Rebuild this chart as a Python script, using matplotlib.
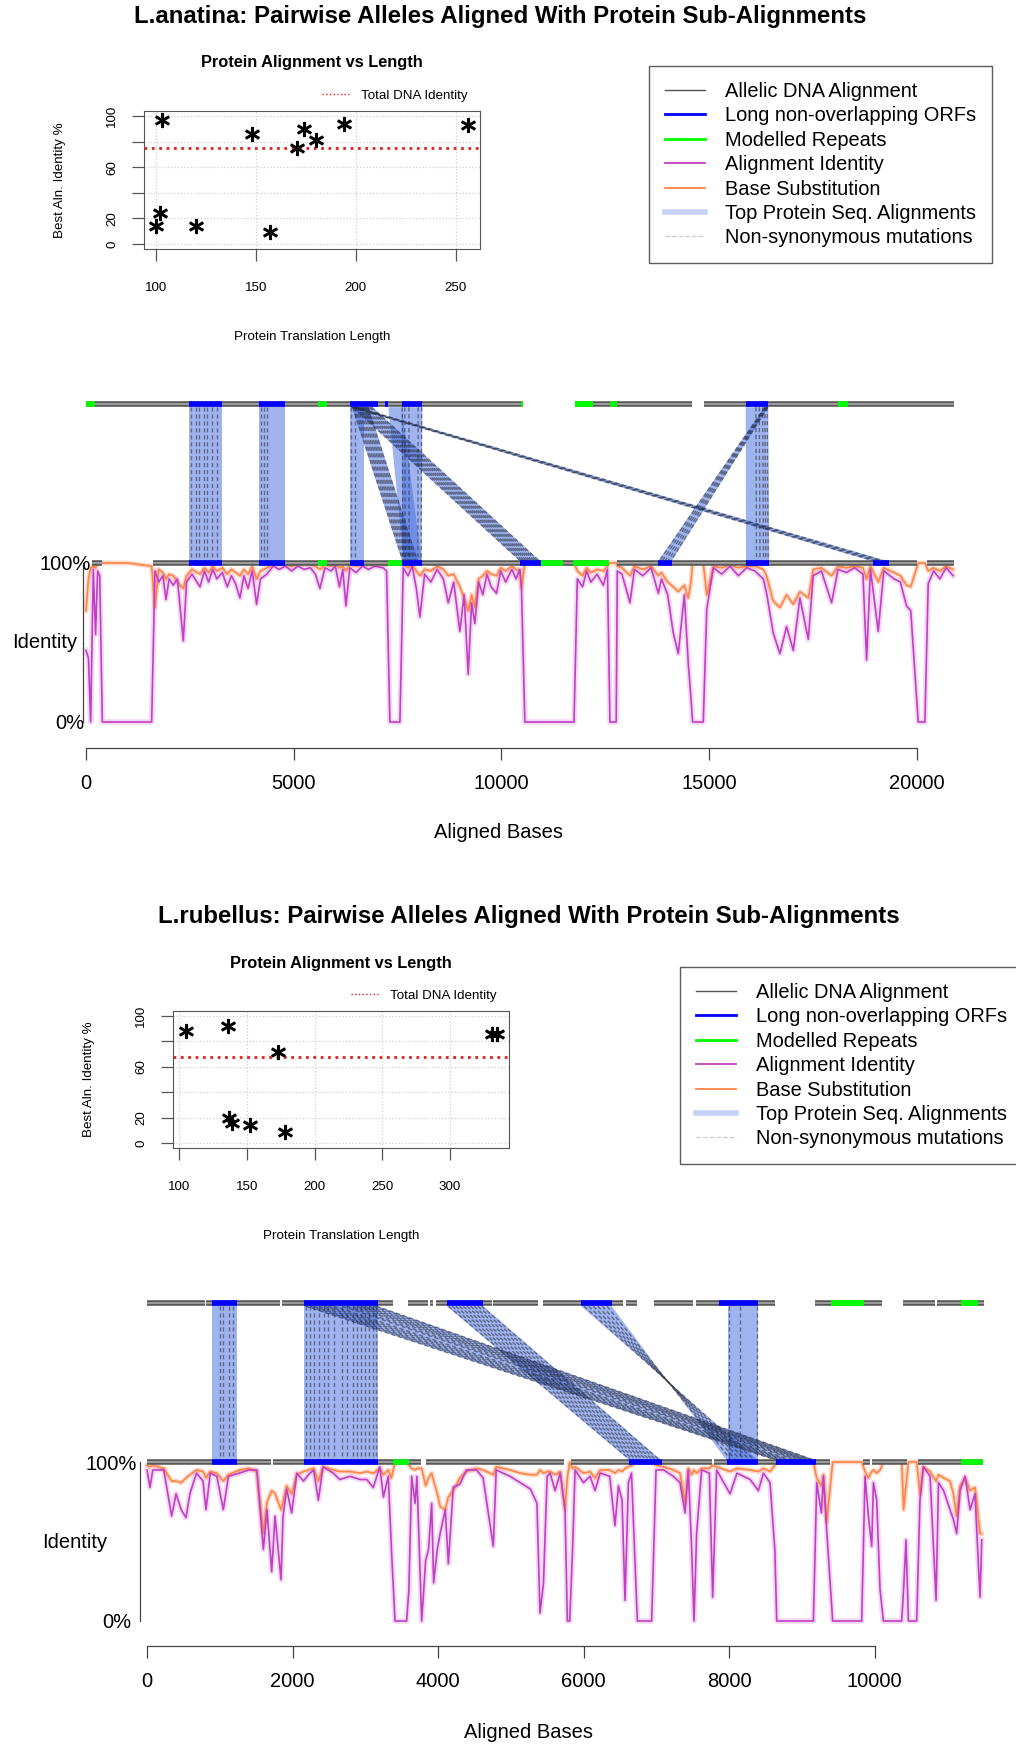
import matplotlib
matplotlib.use("Agg")
import matplotlib.pyplot as plt
from matplotlib.lines import Line2D
from matplotlib.patches import Polygon

plt.rcParams["font.family"] = ["Liberation Sans", "DejaVu Sans"]

W, H = 1016, 1747

# ---------------- L.anatina ----------------
ANA_PROT_LEN = [103, 148, 170.5, 174, 180, 194, 256, 102, 100, 120, 157]
ANA_PROT_IDENT = [97, 86, 75, 90, 81, 94, 93, 24, 14, 14, 9]
ANA_DNA_IDENT = 75

ANA_TOP_ALN = [(0, 10517), (11769, 14578), (14874, 20891)]
ANA_TOP_ORF = [(2486, 3280), (4171, 4789), (6354, 6691), (6691, 7035),
               (7196, 7276), (7598, 8094), (15877, 16421)]
ANA_TOP_REP = [(0, 217), (5577, 5793), (10469, 10517), (11769, 12195),
               (12611, 12780), (18099, 18346)]
ANA_BOT_ALN = [(137, 377), (1605, 12587), (12772, 20007), (20233, 20891)]
ANA_BOT_ORF = [(2486, 3280), (4171, 4789), (6354, 6691), (7613, 8079),
               (10445, 10943), (13759, 14096), (15884, 16446), (18934, 19326)]
ANA_BOT_REP = [(5577, 5793), (7261, 7613), (10943, 11488), (11729, 12587)]

# protein sub-alignments: top start, top end, bottom start, bottom end
ANA_BANDS = [(2486, 3280, 2486, 3280), (4171, 4789, 4171, 4789),
             (6354, 6691, 6354, 6691), (7598, 8094, 7613, 8079),
             (7276, 7598, 7650, 8079), (6400, 6800, 7613, 8000),
             (6400, 6900, 10445, 10943), (6354, 6520, 18934, 19326),
             (15877, 16421, 15884, 16446), (16330, 16421, 13759, 14096)]
ANA_MUTS = [[0.05, 0.2, 0.3, 0.45, 0.55, 0.7, 0.85],
            [0.08, 0.18, 0.3],
            [0.1, 0.35],
            [0.03, 0.15, 0.35, 0.8, 0.97],
            [],
            [0.05, 0.15, 0.25, 0.35, 0.45, 0.55, 0.65, 0.75, 0.85, 0.95],
            [0.05, 0.15, 0.25, 0.35, 0.45, 0.55, 0.65, 0.75, 0.85, 0.95],
            [0.2, 0.4, 0.6, 0.8],
            [0.45, 0.6, 0.75, 0.85, 0.95],
            [0.1, 0.3, 0.5, 0.7, 0.9]]

ANA_POS = [0, 60, 112, 176, 230, 280, 330, 393, 1000, 1580,
           1660, 1750, 1850, 1925, 2000, 2100, 2200, 2342, 2420, 2550,
           2743, 2850, 2950, 3050, 3150, 3280, 3400, 3500, 3600, 3705,
           3800, 3900, 4000, 4106, 4200, 4350, 4507, 4650, 4800, 4950,
           5100, 5250, 5400, 5520, 5630, 5750, 5900, 6000, 6100, 6180,
           6256, 6350, 6500, 6650, 6800, 6950, 7150, 7234, 7314, 7555,
           7635, 7750, 7850, 7950, 8036, 8150, 8300, 8450, 8600, 8718,
           8850, 8998, 9100, 9199, 9280, 9359, 9450, 9550, 9650, 9750,
           9880, 9980, 10100, 10250, 10350, 10442, 10480, 10562, 11745, 11825,
           11950, 12050, 12150, 12300, 12450, 12550, 12610, 12760, 12787, 12900,
           13092, 13200, 13400, 13600, 13774, 13850, 14000, 14134, 14255, 14400,
           14495, 14560, 14600, 14856, 14940, 15100, 15300, 15500, 15700, 15900,
           16100, 16300, 16380, 16540, 16701, 16861, 17022, 17182, 17383, 17503,
           17700, 17944, 18100, 18300, 18500, 18700, 18786, 18880, 19067, 19200,
           19450, 19600, 19748, 19850, 20029, 20190, 20270, 20400, 20550, 20700,
           20871]
ANA_IDENT = [45, 40, 0, 96, 55, 95, 92, 0, 0, 0,
             95, 88, 92, 77, 90, 86, 90, 51, 88, 93,
             85, 95, 88, 96, 90, 94, 85, 92, 87, 78,
             92, 84, 95, 74, 90, 93, 98, 96, 98, 95,
             98, 96, 97, 93, 84, 97, 95, 98, 85, 96,
             73, 97, 94, 98, 96, 98, 97, 95, 0, 0,
             97, 92, 98, 84, 66, 93, 88, 96, 90, 75,
             88, 57, 80, 30, 75, 62, 88, 80, 93, 85,
             81, 95, 88, 96, 90, 96, 85, 0, 0, 90,
             85, 95, 88, 93, 86, 96, 0, 0, 95, 93,
             75, 96, 92, 97, 81, 90, 80, 56, 43, 80,
             37, 15, 0, 0, 71, 97, 93, 98, 92, 97,
             95, 90, 81, 56, 43, 60, 45, 78, 52, 92,
             95, 75, 96, 94, 97, 93, 39, 96, 57, 95,
             90, 88, 73, 70, 0, 0, 87, 95, 90, 97,
             92]
ANA_SUBST = [70, 90, 97, 98, 97, 100, 100, 100, 100, 98,
             72, 96, 94, 90, 93, 92, 88, 84, 92, 96,
             93, 97, 94, 98, 95, 97, 93, 96, 94, 92,
             96, 93, 98, 90, 95, 97, 99, 99, 99, 98,
             99, 99, 99, 98, 96, 99, 98, 99, 97, 98,
             95, 99, 98, 99, 99, 99, 99, 99, 100, 100,
             99, 97, 99, 95, 92, 96, 95, 98, 96, 92,
             93, 85, 78, 70, 80, 72, 90, 92, 95, 93,
             92, 97, 95, 98, 96, 95, 84, 100, 100, 95,
             92, 97, 94, 96, 95, 98, 100, 100, 98, 97,
             92, 98, 96, 98, 92, 94, 88, 85, 82, 86,
             78, 88, 100, 100, 80, 98, 97, 99, 97, 98,
             98, 96, 92, 76, 72, 80, 74, 82, 78, 96,
             97, 92, 98, 97, 98, 97, 90, 98, 88, 97,
             94, 92, 86, 85, 100, 100, 95, 97, 95, 98,
             96]

# ---------------- L.rubellus ----------------
RUB_PROT_LEN = [105, 136, 173, 331, 335, 137, 139, 152, 178]
RUB_PROT_IDENT = [88, 92, 72, 86, 86, 20, 16, 14, 9]
RUB_DNA_IDENT = 68

RUB_TOP_ALN = [(0, 797), (817, 1828), (1860, 3386), (3592, 3867), (3890, 3936),
               (3973, 4738), (4761, 5380), (5449, 6548), (6580, 6731),
               (6974, 7510), (7547, 8632), (9182, 10099), (10396, 10832),
               (10855, 11505)]
RUB_TOP_ORF = [(900, 1234), (2160, 3172), (4119, 4623), (5966, 6387), (7867, 8403)]
RUB_TOP_REP = [(9398, 9856), (11189, 11418)]
RUB_BOT_ALN = [(0, 1700), (1728, 3762), (3835, 5732), (5824, 7762), (7794, 9389),
               (9847, 9939), (9962, 10442), (10603, 11496)]
RUB_BOT_ORF = [(900, 1234), (2160, 3172), (6630, 7074), (7968, 8403), (8646, 9196)]
RUB_BOT_REP = [(3377, 3606), (11189, 11496)]

RUB_BANDS = [(900, 1234, 900, 1234), (2160, 3172, 2160, 3172),
             (2160, 3172, 8646, 9196), (4119, 4623, 6630, 7074),
             (5966, 6387, 8403, 7968), (7990, 8403, 7990, 8403)]
RUB_MUTS = [[0.3, 0.45, 0.7, 0.85],
            [0.02, 0.08, 0.13, 0.2, 0.27, 0.33, 0.4, 0.52, 0.58, 0.66,
             0.72, 0.77, 0.82, 0.88, 0.94, 0.98],
            [0.02, 0.08, 0.13, 0.2, 0.27, 0.33, 0.4, 0.52, 0.58, 0.66,
             0.72, 0.77, 0.82, 0.88, 0.94, 0.98],
            [0.05, 0.15, 0.25, 0.35, 0.45, 0.55, 0.65, 0.75, 0.85, 0.95],
            [0.1, 0.25, 0.4, 0.55, 0.7, 0.85],
            [0.03, 0.4, 0.97]]

RUB_POS = [0, 41, 80, 230, 339, 400, 470, 536, 590, 680,
           770, 811, 870, 960, 1049, 1120, 1270, 1400, 1510, 1599,
           1650, 1714, 1760, 1842, 1870, 1920, 1989, 2060, 2150, 2220,
           2290, 2355, 2420, 2560, 2650, 2790, 2930, 3020, 3111, 3200,
           3250, 3317, 3360, 3409, 3569, 3600, 3638, 3685, 3710, 3776,
           3830, 3870, 3913, 3940, 3990, 4030, 4100, 4142, 4210, 4300,
           4390, 4530, 4620, 4760, 4800, 4990, 5130, 5270, 5360, 5402,
           5450, 5500, 5540, 5610, 5680, 5746, 5778, 5810, 5850, 5884,
           6000, 6090, 6159, 6230, 6360, 6433, 6480, 6530, 6571, 6617,
           6660, 6740, 6937, 6997, 7100, 7235, 7327, 7396, 7441, 7487,
           7519, 7555, 7624, 7730, 7776, 7830, 8014, 8110, 8290, 8404,
           8473, 8564, 8630, 8656, 9160, 9206, 9270, 9298, 9343, 9425,
           9824, 9870, 9916, 9962, 9985, 10030, 10076, 10122, 10374, 10400,
           10433, 10466, 10580, 10625, 10672, 10764, 10846, 10880, 10950, 11038,
           11084, 11130, 11176, 11245, 11314, 11382, 11405, 11451, 11474]
RUB_IDENT = [95, 84, 95, 95, 66, 80, 70, 65, 80, 93,
             88, 70, 93, 91, 70, 91, 93, 95, 95, 45,
             70, 31, 66, 26, 66, 83, 68, 93, 88, 92,
             95, 76, 97, 93, 89, 91, 89, 89, 84, 97,
             78, 91, 45, 0, 0, 20, 91, 74, 91, 0,
             38, 45, 74, 24, 45, 55, 70, 36, 84, 86,
             95, 95, 90, 47, 95, 91, 87, 83, 74, 5,
             24, 91, 93, 82, 93, 70, 0, 0, 45, 95,
             87, 91, 82, 93, 91, 60, 85, 76, 13, 87,
             93, 0, 0, 95, 95, 91, 87, 68, 95, 45,
             0, 55, 95, 93, 15, 95, 80, 93, 89, 82,
             93, 87, 45, 0, 0, 87, 68, 91, 57, 0,
             0, 91, 66, 47, 87, 76, 20, 0, 0, 20,
             51, 0, 0, 76, 97, 91, 13, 87, 82, 70,
             64, 55, 82, 91, 70, 80, 57, 15, 51]
RUB_SUBST = [98, 97, 98, 96, 88, 88, 87, 90, 92, 95,
             94, 90, 94, 93, 88, 92, 95, 96, 94, 55,
             75, 82, 80, 70, 75, 85, 80, 92, 94, 95,
             96, 88, 97, 95, 94, 94, 93, 94, 93, 96,
             92, 95, 90, 100, 100, 98, 96, 95, 96, 96,
             85, 90, 93, 88, 80, 72, 70, 78, 82, 90,
             94, 96, 95, 92, 97, 95, 93, 92, 92, 95,
             93, 94, 94, 92, 94, 70, 90, 100, 96, 97,
             93, 94, 90, 95, 95, 93, 95, 94, 96, 97,
             98, 100, 100, 98, 97, 95, 93, 74, 96, 92,
             95, 93, 96, 96, 98, 97, 94, 96, 95, 94,
             96, 94, 98, 100, 100, 90, 85, 92, 62, 100,
             100, 94, 90, 94, 95, 93, 95, 100, 100, 70,
             85, 100, 100, 80, 97, 94, 88, 92, 90, 88,
             80, 66, 85, 90, 82, 84, 75, 55, 55]

LEGEND_LABELS = ["Allelic DNA Alignment", "Long non-overlapping ORFs",
                 "Modelled Repeats", "Alignment Identity", "Base Substitution",
                 "Top Protein Seq. Alignments", "Non-synonymous mutations"]

PURPLE = "#c13fc4"
ORANGE = "#ff8247"
BAND = "#4169e1"
TOP_Y, BOT_Y = 200, 100


def px_rect(l, t, r, b):
    return [l / W, 1 - b / H, (r - l) / W, (b - t) / H]


def fig_text(fig, x, y, s, **kw):
    fig.text(x / W, 1 - y / H, s, ha="center", va="center", **kw)


def draw_inset(fig, box, lens, idents, dna, xlim, xticks):
    ax = fig.add_axes(px_rect(*box))
    ax.set_xlim(*xlim)
    ax.set_ylim(-4, 104)
    ax.set_xticks(xticks)
    ax.set_yticks([0, 20, 40, 60, 80, 100], ["0", "20", "", "60", "", "100"],
                  rotation=90, va="center")
    ax.grid(True, color="#d0d0d0", ls=":", lw=0.9)
    ax.set_axisbelow(True)
    for sp in ax.spines.values():
        sp.set_color("#555555")
    ax.tick_params(length=8.6, width=0.9, color="#555555", labelsize=9.6)
    ax.tick_params(axis="x", pad=15)
    ax.tick_params(axis="y", pad=10)
    ax.axhline(dna, color="#dd2222", ls=":", lw=2.0)
    ax.plot(lens, idents, ls="none", marker="$*$", ms=10, color="black", mew=1.0)
    ax.text(0.5, 1.35, "Protein Alignment vs Length", transform=ax.transAxes,
            ha="center", va="center", fontsize=11.8, fontweight="bold")
    ax.text(0.5, -0.64, "Protein Translation Length", transform=ax.transAxes,
            ha="center", va="center", fontsize=9.6)
    ax.text(-0.25, 0.5, "Best Aln. Identity %", transform=ax.transAxes,
            ha="center", va="center", rotation=90, fontsize=9.6)
    h = Line2D([], [], color="#dd2222", ls=":", lw=1.0)
    ax.legend([h], ["Total DNA Identity"], loc="center left",
              bbox_to_anchor=(0.53, 1.11), frameon=False, fontsize=9.6,
              handlelength=2.0, handletextpad=0.9, borderpad=0, borderaxespad=0)
    return ax


def draw_segments(ax, segs, y, color, lw, z):
    for a, b in segs:
        ax.plot([a, b], [y, y], color=color, lw=lw, solid_capstyle="butt", zorder=z)


def draw_main(fig, box, x0, ppb, y0, ppp, xmax, xstep, left_px,
              pos, ident, subst, top_aln, top_orf, top_rep,
              bot_aln, bot_orf, bot_rep, bands, muts):
    l, t, r, b = box
    ax = fig.add_axes(px_rect(l, t, r, b))
    ax.set_xlim((l - x0) / ppb, (r - x0) / ppb)
    ax.set_ylim((y0 - b) / ppp, (y0 - t) / ppp)
    ax.patch.set_alpha(0)

    # identity curves (faint wide copies underneath)
    ax.plot(pos, subst, color=ORANGE, lw=3.5, alpha=0.3, zorder=2)
    ax.plot(pos, ident, color=PURPLE, lw=4, alpha=0.2, zorder=2)
    ax.plot(pos, subst, color=ORANGE, lw=1.2, zorder=2.5)
    ax.plot(pos, ident, color=PURPLE, lw=1.2, zorder=2.6)

    # protein sub-alignment bands + non-synonymous mutations
    yt, yb = TOP_Y - 2, BOT_Y + 1
    for (t0, t1, b0, b1), fr in zip(bands, muts):
        ax.add_patch(Polygon([(t0, yt), (t1, yt), (b1, yb), (b0, yb)], closed=True,
                             fc=BAND, ec="none", alpha=0.5, zorder=3))
        for f in fr:
            ax.plot([t0 + f * (t1 - t0), b0 + f * (b1 - b0)], [yt, yb],
                    color="#262b36", lw=1.0, ls=(0, (3, 2)), alpha=0.55, zorder=3.2)

    # allele tracks
    for segs, y in ((top_aln, TOP_Y), (bot_aln, BOT_Y)):
        draw_segments(ax, segs, y, "#585858", 4, 4)
        draw_segments(ax, segs, y, "#a8a8a8", 1.2, 4.1)
    draw_segments(ax, top_orf, TOP_Y, "#0000ff", 4, 5)
    draw_segments(ax, bot_orf, BOT_Y, "#0000ff", 4, 5)
    draw_segments(ax, top_rep, TOP_Y, "#00ff00", 4, 5)
    draw_segments(ax, bot_rep, BOT_Y, "#00ff00", 4, 5)

    ax.spines[["top", "right"]].set_visible(False)
    ax.spines["bottom"].set_bounds(0, xmax)
    ax.spines["left"].set_position(("data", (left_px - x0) / ppb))
    ax.spines["left"].set_bounds(0, 100)
    for sp in ("bottom", "left"):
        ax.spines[sp].set_color("#444444")
        ax.spines[sp].set_linewidth(0.9)
    ax.set_xticks(range(0, xmax + 1, xstep))
    ax.set_yticks([])
    ax.tick_params(axis="x", length=8.6, width=0.9, color="#444444",
                   labelsize=14.5, pad=10)
    return ax


fig = plt.figure(figsize=(W / 100, H / 100), dpi=100)

# ---- panel 1
fig_text(fig, 500, 17, "L.anatina: Pairwise Alleles Aligned With Protein Sub-Alignments",
         fontsize=17.3, fontweight="bold")
draw_inset(fig, (144, 111, 480, 249), ANA_PROT_LEN, ANA_PROT_IDENT, ANA_DNA_IDENT,
           (93.8, 262.2), [100, 150, 200, 250])
draw_main(fig, (40, 390, 1000, 748), 86, 0.04155, 722, 1.59, 20000, 5000, 82.7,
          ANA_POS, ANA_IDENT, ANA_SUBST, ANA_TOP_ALN, ANA_TOP_ORF, ANA_TOP_REP,
          ANA_BOT_ALN, ANA_BOT_ORF, ANA_BOT_REP, ANA_BANDS, ANA_MUTS)
fig_text(fig, 65, 565, "100%", fontsize=14.5)
fig_text(fig, 70, 723, "0%", fontsize=14.5)
fig_text(fig, 45, 643, "Identity", fontsize=14.5)
fig_text(fig, 499, 833, "Aligned Bases", fontsize=14.5)

# ---- panel 2
fig_text(fig, 529, 916, "L.rubellus: Pairwise Alleles Aligned With Protein Sub-Alignments",
         fontsize=17.3, fontweight="bold")
draw_inset(fig, (173, 1011, 509, 1148), RUB_PROT_LEN, RUB_PROT_IDENT, RUB_DNA_IDENT,
           (95.5, 343.5), [100, 150, 200, 250, 300])
draw_main(fig, (40, 1290, 1000, 1646), 147, 0.07275, 1621, 1.59, 10000, 2000, 140,
          RUB_POS, RUB_IDENT, RUB_SUBST, RUB_TOP_ALN, RUB_TOP_ORF, RUB_TOP_REP,
          RUB_BOT_ALN, RUB_BOT_ORF, RUB_BOT_REP, RUB_BANDS, RUB_MUTS)
fig_text(fig, 111, 1464, "100%", fontsize=14.5)
fig_text(fig, 117, 1623, "0%", fontsize=14.5)
fig_text(fig, 75, 1542, "Identity", fontsize=14.5)
fig_text(fig, 528, 1732, "Aligned Bases", fontsize=14.5)

# ---- legends
handles = [Line2D([], [], color="#555555", lw=1.0),
           Line2D([], [], color="#0000ff", lw=2.0),
           Line2D([], [], color="#00ff00", lw=2.0),
           Line2D([], [], color=PURPLE, lw=1.3),
           Line2D([], [], color=ORANGE, lw=1.3),
           Line2D([], [], color=BAND, lw=4, alpha=0.3),
           Line2D([], [], color="#cccccc", lw=0.9, ls="--")]
for x, y in ((649, 66), (680, 967)):
    leg = fig.legend(handles, LEGEND_LABELS, loc="upper left",
                     bbox_to_anchor=(x / W, 1 - y / H), fontsize=14.4,
                     frameon=True, fancybox=False, edgecolor="#333333",
                     borderpad=0.8, handlelength=2.0, handletextpad=1.0,
                     labelspacing=0.27, borderaxespad=0)
    leg.get_frame().set_linewidth(1.0)

fig.savefig("out.png", dpi=100)
